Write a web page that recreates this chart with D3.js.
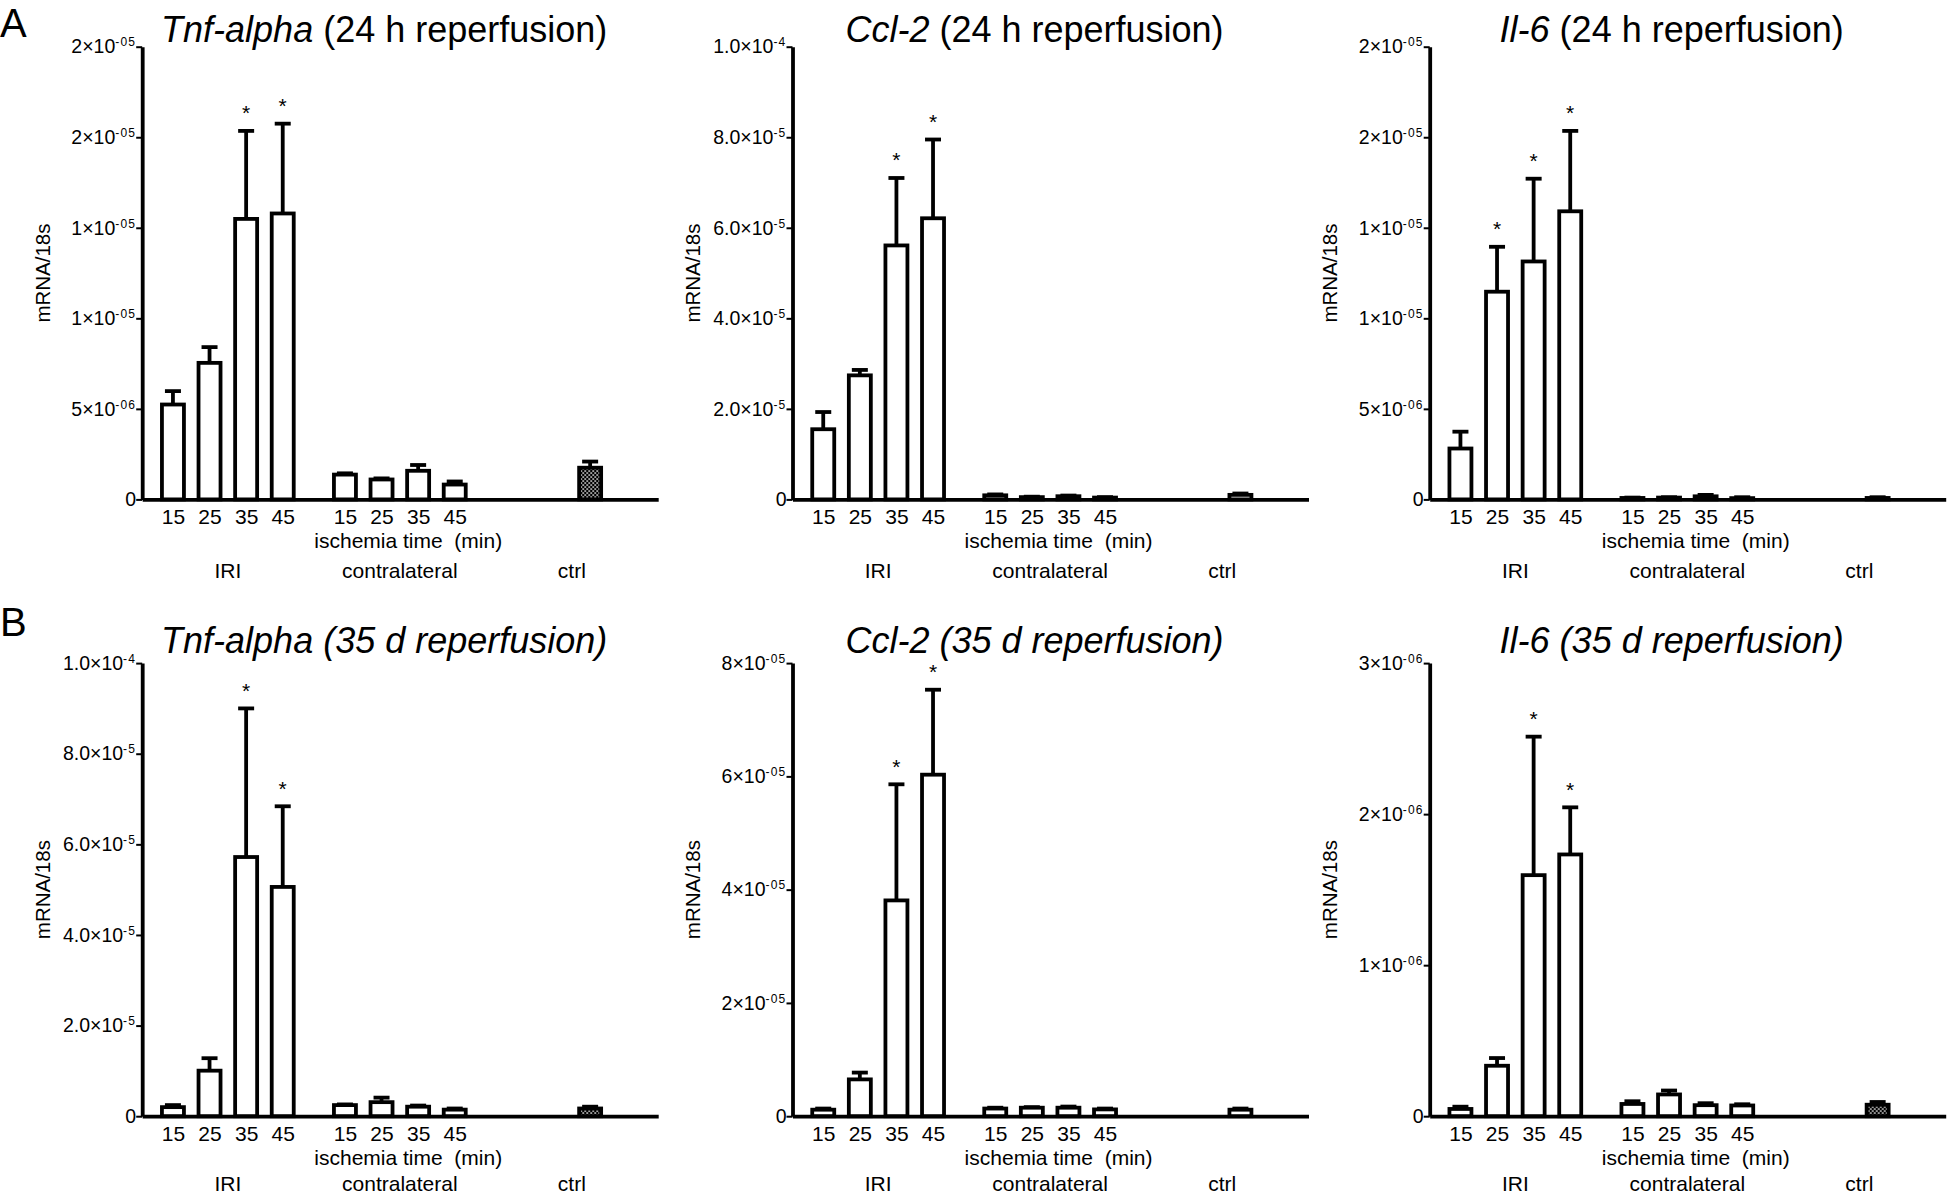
<!DOCTYPE html>
<html><head><meta charset="utf-8">
<script src="https://cdn.jsdelivr.net/npm/d3@7"></script>
<style>
body{margin:0;background:#fff;}
svg text{font-family:"Liberation Sans", Arial, Helvetica, sans-serif;fill:#000;}
</style></head><body>
<svg id="chart" width="1947" height="1195"></svg>
<script>
// ---------- data ----------
const times = ["15","25","35","45"];
const groups = ["IRI","contralateral","ctrl"];
const xAxisTitle = "ischemia time  (min)";
const yAxisTitle = "mRNA/18s";

// A: Tnf-alpha 24 h
const tnf24IRI = [5.24e-6, 7.54e-6, 15.49e-6, 15.79e-6];
const tnf24IRISem = [0.74e-6, 0.87e-6, 4.86e-6, 4.96e-6];
const tnf24Contra = [1.37e-6, 1.10e-6, 1.58e-6, 0.82e-6];
const tnf24ContraSem = [0.07e-6, 0.06e-6, 0.32e-6, 0.17e-6];
const tnf24Ctrl = [1.75e-6];
const tnf24CtrlSem = [0.34e-6];
const tnf24Stars = [false, false, true, true];

// A: Ccl-2 24 h
const ccl24IRI = [15.5e-6, 27.4e-6, 56.1e-6, 62.1e-6];
const ccl24IRISem = [3.8e-6, 1.2e-6, 14.9e-6, 17.4e-6];
const ccl24Contra = [0.9e-6, 0.5e-6, 0.7e-6, 0.4e-6];
const ccl24ContraSem = [0.2e-6, 0.1e-6, 0.15e-6, 0.1e-6];
const ccl24Ctrl = [1.0e-6];
const ccl24CtrlSem = [0.3e-6];
const ccl24Stars = [false, false, true, true];

// A: Il-6 24 h
const il24IRI = [2.81e-6, 11.47e-6, 13.14e-6, 15.91e-6];
const il24IRISem = [0.93e-6, 2.48e-6, 4.57e-6, 4.44e-6];
const il24Contra = [0.08e-6, 0.10e-6, 0.17e-6, 0.07e-6];
const il24ContraSem = [0.02e-6, 0.02e-6, 0.08e-6, 0.05e-6];
const il24Ctrl = [0.08e-6];
const il24CtrlSem = [0.04e-6];
const il24Stars = [false, true, true, true];

// B: Tnf-alpha 35 d
const tnf35IRI = [2.0e-6, 10.05e-6, 57.2e-6, 50.6e-6];
const tnf35IRISem = [0.45e-6, 2.75e-6, 32.8e-6, 17.8e-6];
const tnf35Contra = [2.45e-6, 3.1e-6, 2.1e-6, 1.45e-6];
const tnf35ContraSem = [0.15e-6, 1.0e-6, 0.25e-6, 0.25e-6];
const tnf35Ctrl = [1.7e-6];
const tnf35CtrlSem = [0.4e-6];
const tnf35Stars = [false, false, true, true];

// B: Ccl-2 35 d
const ccl35IRI = [1.15e-6, 6.5e-6, 38.1e-6, 60.3e-6];
const ccl35IRISem = [0.2e-6, 1.2e-6, 20.5e-6, 15.0e-6];
const ccl35Contra = [1.35e-6, 1.5e-6, 1.5e-6, 1.2e-6];
const ccl35ContraSem = [0.15e-6, 0.1e-6, 0.2e-6, 0.15e-6];
const ccl35Ctrl = [1.15e-6];
const ccl35CtrlSem = [0.2e-6];
const ccl35Stars = [false, false, true, true];

// B: Il-6 35 d
const il35IRI = [0.048e-6, 0.334e-6, 1.596e-6, 1.733e-6];
const il35IRISem = [0.015e-6, 0.051e-6, 0.917e-6, 0.312e-6];
const il35Contra = [0.081e-6, 0.144e-6, 0.073e-6, 0.071e-6];
const il35ContraSem = [0.018e-6, 0.026e-6, 0.013e-6, 0.008e-6];
const il35Ctrl = [0.076e-6];
const il35CtrlSem = [0.018e-6];
const il35Stars = [false, false, true, true];

// y tick values and labels
const ticks25e6 = [0, 5e-6, 1e-5, 1.5e-5, 2e-5, 2.5e-5];
const ticks25e6Mant = ["0", "5×10", "1×10", "1×10", "2×10", "2×10"];
const ticks25e6Exp = ["", "-06", "-05", "-05", "-05", "-05"];
const ticks1e4 = [0, 2e-5, 4e-5, 6e-5, 8e-5, 1e-4];
const ticks1e4Mant = ["0", "2.0×10", "4.0×10", "6.0×10", "8.0×10", "1.0×10"];
const ticks1e4Exp = ["", "-5", "-5", "-5", "-5", "-4"];
const ticks8e5 = [0, 2e-5, 4e-5, 6e-5, 8e-5];
const ticks8e5Mant = ["0", "2×10", "4×10", "6×10", "8×10"];
const ticks8e5Exp = ["", "-05", "-05", "-05", "-05"];
const ticks3e6 = [0, 1e-6, 2e-6, 3e-6];
const ticks3e6Mant = ["0", "1×10", "2×10", "3×10"];
const ticks3e6Exp = ["", "-06", "-06", "-06"];

// titles
const titlesGene = ["Tnf-alpha", "Ccl-2", "Il-6"];
const titleRest24 = " (24 h reperfusion)";
const titleRest35 = " (35 d reperfusion)";
const panelLetters = ["A", "B"];

// ---------- layout ----------
const colX = [142.2, 792.5, 1429.7];
const rowTop = [46.7, 663.1];
const rowBase = [499.4, 1116.2];
const rowTitleGap = [5, 10];
const rowGroupLabelGap = [78.5, 75];
const letterY = [37, 636];
const AXIS_LEN = 516;
const groupSlotStart = [0, 4.7, 11.4];
const groupLabelSlot = [1.5, 6.2, 10.9];
const xTitleSlot = 6.43;

const panels = [
  {row:0,col:0,gene:titlesGene[0],rest:titleRest24,allItalic:false,yMax:2.5e-5,ticks:ticks25e6,mant:ticks25e6Mant,exp:ticks25e6Exp,
   iri:tnf24IRI,iriSem:tnf24IRISem,contra:tnf24Contra,contraSem:tnf24ContraSem,ctrl:tnf24Ctrl,ctrlSem:tnf24CtrlSem,stars:tnf24Stars,ctrlPattern:true},
  {row:0,col:1,gene:titlesGene[1],rest:titleRest24,allItalic:false,yMax:1e-4,ticks:ticks1e4,mant:ticks1e4Mant,exp:ticks1e4Exp,
   iri:ccl24IRI,iriSem:ccl24IRISem,contra:ccl24Contra,contraSem:ccl24ContraSem,ctrl:ccl24Ctrl,ctrlSem:ccl24CtrlSem,stars:ccl24Stars,ctrlPattern:false},
  {row:0,col:2,gene:titlesGene[2],rest:titleRest24,allItalic:false,yMax:2.5e-5,ticks:ticks25e6,mant:ticks25e6Mant,exp:ticks25e6Exp,
   iri:il24IRI,iriSem:il24IRISem,contra:il24Contra,contraSem:il24ContraSem,ctrl:il24Ctrl,ctrlSem:il24CtrlSem,stars:il24Stars,ctrlPattern:false},
  {row:1,col:0,gene:titlesGene[0],rest:titleRest35,allItalic:true,yMax:1e-4,ticks:ticks1e4,mant:ticks1e4Mant,exp:ticks1e4Exp,
   iri:tnf35IRI,iriSem:tnf35IRISem,contra:tnf35Contra,contraSem:tnf35ContraSem,ctrl:tnf35Ctrl,ctrlSem:tnf35CtrlSem,stars:tnf35Stars,ctrlPattern:true},
  {row:1,col:1,gene:titlesGene[1],rest:titleRest35,allItalic:true,yMax:8e-5,ticks:ticks8e5,mant:ticks8e5Mant,exp:ticks8e5Exp,
   iri:ccl35IRI,iriSem:ccl35IRISem,contra:ccl35Contra,contraSem:ccl35ContraSem,ctrl:ccl35Ctrl,ctrlSem:ccl35CtrlSem,stars:ccl35Stars,ctrlPattern:false},
  {row:1,col:2,gene:titlesGene[2],rest:titleRest35,allItalic:true,yMax:3e-6,ticks:ticks3e6,mant:ticks3e6Mant,exp:ticks3e6Exp,
   iri:il35IRI,iriSem:il35IRISem,contra:il35Contra,contraSem:il35ContraSem,ctrl:il35Ctrl,ctrlSem:il35CtrlSem,stars:il35Stars,ctrlPattern:true}
];

const svg = d3.select("#chart");
svg.append("rect").attr("width",1947).attr("height",1195).attr("fill","#fff");

const pat = svg.append("defs").append("pattern").attr("id","checker")
  .attr("patternUnits","userSpaceOnUse").attr("width",4).attr("height",4);
pat.append("rect").attr("width",4).attr("height",4).attr("fill","#000");
pat.append("rect").attr("x",0.3).attr("y",0.3).attr("width",1.5).attr("height",1.5).attr("fill","#fff");
pat.append("rect").attr("x",2.3).attr("y",2.3).attr("width",1.5).attr("height",1.5).attr("fill","#fff");

const SW = 3.8;

panels.forEach(p => {
  const top = rowTop[p.row], base = rowBase[p.row];
  const g = svg.append("g").attr("transform", `translate(${colX[p.col]},0)`);
  const y = d3.scaleLinear().domain([0, p.yMax]).range([base, top]);
  const x = d3.scaleLinear().domain([-0.84, 13.26]).range([0, AXIS_LEN]);

  const bars = [];
  times.forEach((t,i) => bars.push({slot: groupSlotStart[0]+i, v:p.iri[i], e:p.iriSem[i], star:p.stars[i], fill:"#fff"}));
  times.forEach((t,i) => bars.push({slot: groupSlotStart[1]+i, v:p.contra[i], e:p.contraSem[i], star:false, fill:"#fff"}));
  p.ctrl.forEach((v,i) => bars.push({slot: groupSlotStart[2]+i, v:v, e:p.ctrlSem[i], star:false, fill: p.ctrlPattern ? "url(#checker)" : "#fff"}));

  // error bars (upper only)
  g.selectAll(".errv").data(bars).join("line").attr("class","errv")
    .attr("x1", d => x(d.slot)).attr("x2", d => x(d.slot))
    .attr("y1", d => y(d.v)).attr("y2", d => y(d.v + d.e))
    .attr("stroke","#000").attr("stroke-width",SW);
  g.selectAll(".errc").data(bars).join("line").attr("class","errc")
    .attr("x1", d => x(d.slot) - 8).attr("x2", d => x(d.slot) + 8)
    .attr("y1", d => y(d.v + d.e)).attr("y2", d => y(d.v + d.e))
    .attr("stroke","#000").attr("stroke-width",SW);

  // bars
  g.selectAll(".bar").data(bars).join("rect").attr("class","bar")
    .attr("x", d => x(d.slot) - 11).attr("width", 22)
    .attr("y", d => y(d.v)).attr("height", d => base - y(d.v))
    .attr("fill", d => d.fill).attr("stroke","#000").attr("stroke-width",SW);

  // stars
  g.selectAll(".star").data(bars.filter(d => d.star)).join("text").attr("class","star")
    .attr("x", d => x(d.slot)).attr("y", d => y(d.v + d.e) - 10.5)
    .attr("text-anchor","middle").attr("font-size",21).text("*");

  // y axis
  const ya = g.append("g").call(d3.axisLeft(y).tickValues(p.ticks).tickSize(6).tickSizeOuter(0).tickPadding(0)
      .tickFormat((d,i) => p.mant[i]));
  ya.select(".domain").attr("stroke-width",SW).attr("stroke","#000");
  ya.selectAll(".tick line").attr("stroke-width",2).attr("stroke","#000");
  ya.selectAll(".tick text").attr("font-size",19.5).each(function(d,i){
    const t = d3.select(this);
    if (p.exp[i]) {
      t.append("tspan").attr("font-size",12).attr("dy",-7).attr("letter-spacing",1.2).text(p.exp[i]);
    }
  });
  ya.attr("font-family",null).attr("font-size",null);

  // x axis
  const xTickSlots = [];
  times.forEach((t,i) => xTickSlots.push(groupSlotStart[0]+i));
  times.forEach((t,i) => xTickSlots.push(groupSlotStart[1]+i));
  const xa = g.append("g").attr("transform", `translate(0,${base})`)
    .call(d3.axisBottom(x).tickValues(xTickSlots).tickSize(0).tickSizeOuter(0).tickPadding(10)
      .tickFormat((d,i) => times[i % times.length]));
  xa.select(".domain").attr("stroke-width",SW).attr("stroke","#000");
  xa.selectAll(".tick text").attr("font-size",21);
  xa.attr("font-family",null).attr("font-size",null);

  // x axis title and group labels
  g.append("text").attr("x", x(xTitleSlot)).attr("y", base + 48.6).attr("text-anchor","middle")
    .attr("font-size",21).style("white-space","pre").text(xAxisTitle);
  g.selectAll(".grp").data(groups).join("text").attr("class","grp")
    .attr("x", (d,i) => x(groupLabelSlot[i])).attr("y", base + rowGroupLabelGap[p.row])
    .attr("text-anchor","middle").attr("font-size",21).text(d => d);

  // y axis title
  g.append("text").attr("transform", `translate(-100,${(top+base)/2}) rotate(-90)`)
    .attr("text-anchor","middle").attr("dominant-baseline","central").attr("font-size",20.5).text(yAxisTitle);

  // title
  const tt = g.append("text").attr("x", 242).attr("y", top - rowTitleGap[p.row]).attr("text-anchor","middle").attr("font-size",36);
  tt.append("tspan").attr("font-style","italic").text(p.gene);
  tt.append("tspan").attr("font-style", p.allItalic ? "italic" : "normal").text(p.rest);
});

// panel letters
svg.selectAll(".letter").data(panelLetters).join("text").attr("class","letter")
  .attr("x", 0).attr("y", (d,i) => letterY[i]).attr("font-size",40).text(d => d);
</script>
</body></html>
